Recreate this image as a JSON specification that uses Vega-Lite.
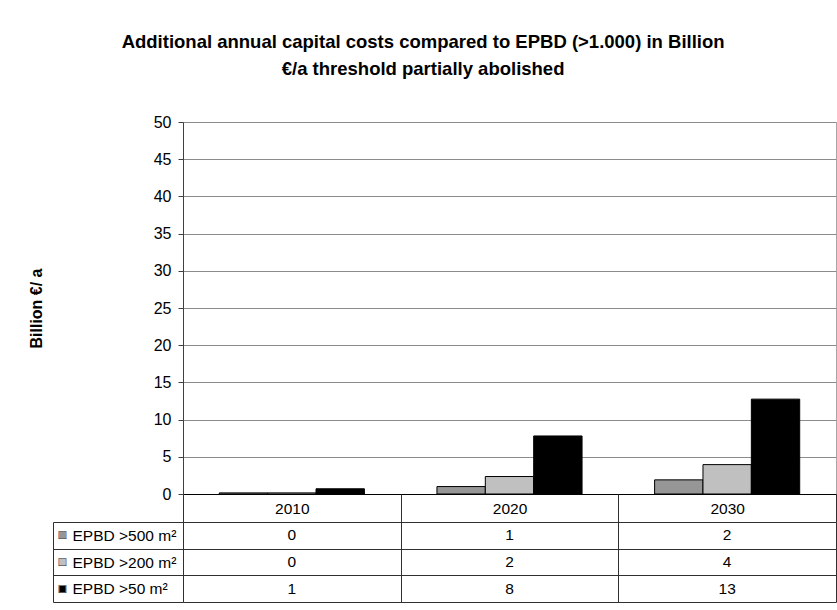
{
  "$schema": "https://vega.github.io/schema/vega-lite/v6.json",
  "padding": {"left": 27, "top": 33, "right": 0, "bottom": 0},
  "background": "white",
  "data": {"values": [
    {"year": "2010", "series": "EPBD >500 m²", "value": 0.15},
    {"year": "2010", "series": "EPBD >200 m²", "value": 0.15},
    {"year": "2010", "series": "EPBD >50 m²", "value": 0.7},
    {"year": "2020", "series": "EPBD >500 m²", "value": 1.0},
    {"year": "2020", "series": "EPBD >200 m²", "value": 2.35},
    {"year": "2020", "series": "EPBD >50 m²", "value": 7.8},
    {"year": "2030", "series": "EPBD >500 m²", "value": 1.9},
    {"year": "2030", "series": "EPBD >200 m²", "value": 3.95},
    {"year": "2030", "series": "EPBD >50 m²", "value": 12.75}
  ]},
  "title": {
    "text": ["Additional annual capital costs compared to EPBD (>1.000) in Billion", "€/a  threshold partially abolished"],
    "font": "Liberation Sans",
    "fontSize": 18.5,
    "fontWeight": "bold",
    "color": "black",
    "lineHeight": 27,
    "anchor": "middle",
    "offset": 35,
    "dx": -9
  },
  "bounds": "flush",
  "spacing": 28,
  "vconcat": [
    {
      "width": 653,
      "height": 372,
      "view": {"stroke": "#a6a6a6"},
      "mark": {"type": "bar", "stroke": "black", "strokeWidth": 1},
      "encoding": {
        "x": {"field": "year", "type": "nominal", "sort": ["2010", "2020", "2030"],
              "scale": {"paddingInner": 0.3333, "paddingOuter": 0.1667},
              "axis": {"labels": false, "ticks": false, "title": null, "domainColor": "black", "grid": false}},
        "xOffset": {"field": "series", "type": "nominal", "sort": ["EPBD >500 m²", "EPBD >200 m²", "EPBD >50 m²"],
                    "scale": {"paddingInner": 0, "paddingOuter": 0}},
        "y": {"field": "value", "type": "quantitative",
              "scale": {"domain": [0, 50], "nice": false},
              "axis": {"values": [0, 5, 10, 15, 20, 25, 30, 35, 40, 45, 50],
                       "title": "Billion €/ a", "titleFontWeight": "bold", "titleFontSize": 16, "titleColor": "black",
                       "titlePadding": 109,
                       "grid": true, "gridColor": "#8c8c8c", "domainColor": "#404040", "tickColor": "#404040",
                       "tickSize": 5, "labelFontSize": 16, "labelPadding": 7, "labelColor": "black"}},
        "fill": {"field": "series", "type": "nominal",
                 "scale": {"domain": ["EPBD >500 m²", "EPBD >200 m²", "EPBD >50 m²"], "range": ["#969696", "#c0c0c0", "#000000"]},
                 "legend": null}
      }
    },
    {
      "width": 653,
      "height": 80,
      "view": {"stroke": null},
      "resolve": {"axis": {"y": "independent"}},
      "layer": [
        {
          "mark": {"type": "text", "fontSize": 15.5, "color": "black"},
          "encoding": {
            "x": {"field": "year", "type": "nominal", "sort": ["2010", "2020", "2030"],
                  "scale": {"paddingInner": 0, "paddingOuter": 0},
                  "axis": {"orient": "top", "title": null, "tickBand": "extent", "tickSize": 28,
                           "labelPadding": -14, "labelBaseline": "middle", "labelAngle": 0, "labelFontSize": 15.5,
                           "labelColor": "black", "grid": true, "gridColor": "#303030", "domainColor": "#303030", "tickColor": "#303030"}},
            "y": {"field": "series", "type": "nominal", "sort": ["EPBD >500 m²", "EPBD >200 m²", "EPBD >50 m²"],
                  "scale": {"paddingInner": 0, "paddingOuter": 0},
                  "axis": {"orient": "left", "title": null, "tickBand": "extent", "tickSize": 130,
                           "labelAlign": "left", "labelPadding": -19, "labelFontSize": 15.5, "labelColor": "black",
                           "grid": true, "gridColor": "#303030", "domainColor": "#303030", "tickColor": "#303030"}},
            "text": {"field": "value", "type": "quantitative", "format": ".0f"}
          }
        },
        {
          "mark": {"type": "text", "text": ""},
          "encoding": {
            "y": {"field": "series", "type": "nominal", "sort": ["EPBD >500 m²", "EPBD >200 m²", "EPBD >50 m²"],
                  "axis": {"orient": "left", "offset": 130, "title": null, "ticks": false, "grid": false,
                           "labelExpr": "'■'", "labelAlign": "left", "labelPadding": -5, "labelFontSize": 13,
                           "labelColor": {"condition": [
                             {"test": "datum.value === 'EPBD >500 m²'", "value": "#969696"},
                             {"test": "datum.value === 'EPBD >200 m²'", "value": "#c0c0c0"}
                           ], "value": "black"},
                           "domainColor": "#303030"}}
          }
        },
        {
          "mark": {"type": "text", "text": ""},
          "encoding": {
            "y": {"field": "series", "type": "nominal", "sort": ["EPBD >500 m²", "EPBD >200 m²", "EPBD >50 m²"],
                  "axis": {"orient": "left", "offset": 130, "title": null, "ticks": false, "grid": false, "domain": false,
                           "labelExpr": "'□'", "labelAlign": "left", "labelPadding": -5, "labelFontSize": 13,
                           "labelColor": "black"}}
          }
        }
      ]
    }
  ],
  "config": {
    "font": "Liberation Sans",
    "axis": {"labelFont": "Liberation Sans", "titleFont": "Liberation Sans"}
  }
}
